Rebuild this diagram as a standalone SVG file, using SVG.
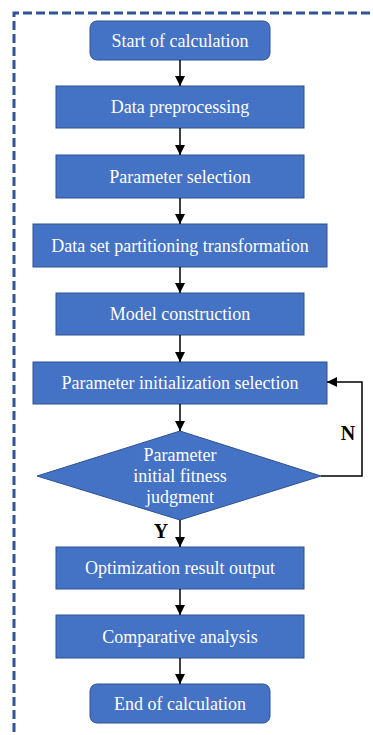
<svg xmlns="http://www.w3.org/2000/svg" width="373" height="735" viewBox="0 0 373 735">
  <defs>
    <marker id="arrow" viewBox="0 0 10 10" refX="10" refY="5" markerWidth="10" markerHeight="10" markerUnits="userSpaceOnUse" orient="auto">
      <path d="M0,0 L10,5 L0,10 Z" fill="#000"/>
    </marker>
  </defs>
  <style>
    .box { fill: #4472C4; stroke: #2F528F; stroke-width: 1; }
    .label { font-family: "Liberation Serif", "Times New Roman", serif; font-size: 18px; fill: #FFFFFF; text-anchor: middle; dominant-baseline: central; }
    .flow { fill: none; stroke: #000; stroke-width: 1.5; marker-end: url(#arrow); }
    .yn { font-family: "Liberation Serif", "Times New Roman", serif; font-size: 20px; font-weight: bold; fill: #000; text-anchor: middle; dominant-baseline: central; }
  </style>
  <rect width="373" height="735" fill="#FFFFFF"/>

  <!-- dashed frame around the whole procedure -->
  <path d="M14,745 L14,13 L380,13" fill="none" stroke="#2F5597" stroke-width="3" stroke-dasharray="9,4"/>

  <g id="start">
    <rect class="box" x="90" y="21" width="180" height="39" rx="7"/>
    <text class="label" x="180" y="41">Start of calculation</text>
  </g>
  <g id="preprocess">
    <rect class="box" x="56" y="86" width="248" height="42"/>
    <text class="label" x="180" y="107">Data preprocessing</text>
  </g>
  <g id="param-select">
    <rect class="box" x="56" y="155" width="248" height="43"/>
    <text class="label" x="180" y="176.5">Parameter selection</text>
  </g>
  <g id="partition">
    <rect class="box" x="33" y="224" width="294" height="43"/>
    <text class="label" x="180" y="245.5">Data set partitioning transformation</text>
  </g>
  <g id="model">
    <rect class="box" x="56" y="293" width="248" height="42"/>
    <text class="label" x="180" y="314">Model construction</text>
  </g>
  <g id="param-init">
    <rect class="box" x="33" y="362" width="294" height="42"/>
    <text class="label" x="180" y="383">Parameter initialization selection</text>
  </g>
  <g id="fitness">
    <polygon class="box" points="180,431 321,476 180,520 37,476"/>
    <text class="label" x="180" y="455">Parameter</text>
    <text class="label" x="180" y="476">initial fitness</text>
    <text class="label" x="180" y="497">judgment</text>
  </g>
  <g id="output">
    <rect class="box" x="56" y="547" width="248" height="42"/>
    <text class="label" x="180" y="568">Optimization result output</text>
  </g>
  <g id="compare">
    <rect class="box" x="56" y="615" width="248" height="43"/>
    <text class="label" x="180" y="636.5">Comparative analysis</text>
  </g>
  <g id="end">
    <rect class="box" x="90" y="684" width="180" height="39" rx="7"/>
    <text class="label" x="180" y="704">End of calculation</text>
  </g>

  <g id="connectors">
    <line class="flow" x1="180" y1="60" x2="180" y2="86"/>
    <line class="flow" x1="180" y1="128" x2="180" y2="155"/>
    <line class="flow" x1="180" y1="198" x2="180" y2="224"/>
    <line class="flow" x1="180" y1="267" x2="180" y2="293"/>
    <line class="flow" x1="180" y1="335" x2="180" y2="362"/>
    <line class="flow" x1="180" y1="404" x2="180" y2="431"/>
    <line class="flow" x1="180" y1="520" x2="180" y2="547"/>
    <line class="flow" x1="180" y1="589" x2="180" y2="615"/>
    <line class="flow" x1="180" y1="658" x2="180" y2="684"/>
    <polyline class="flow" points="321,476 362,476 362,382 327,382"/>
    <text class="yn" x="348" y="433">N</text>
    <text class="yn" x="161" y="531">Y</text>
  </g>
</svg>
